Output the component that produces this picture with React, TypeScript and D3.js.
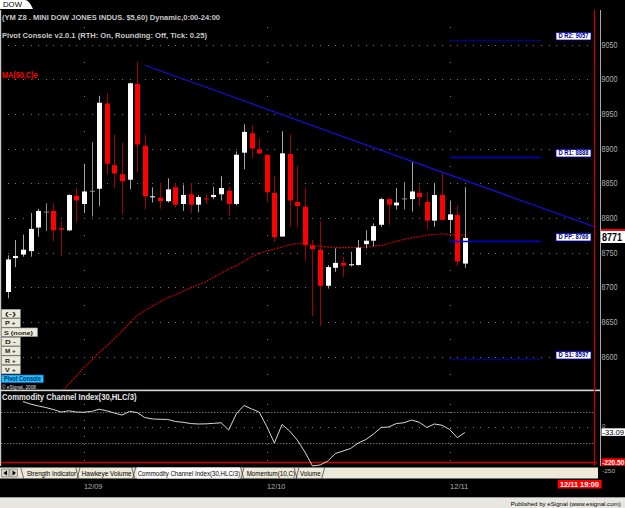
import React from 'react';
import * as d3 from 'd3';

// hourly bars of YM Z8
const opens = [8693, 8742, 8747, 8752, 8786, 8809, 8810, 8785, 8782, 8832, 8820, 8839, 8842, 8965, 8876, 8863, 8855, 8993, 8904, 8830, 8829, 8824, 8844, 8820, 8834, 8819, 8828, 8830, 8834, 8839, 8820, 8894, 8922, 8899, 8891, 8836, 8773, 8892, 8823, 8816, 8760, 8754, 8702, 8728, 8735, 8732, 8732, 8762, 8767, 8790, 8827, 8818, 8828, 8827, 8836, 8823, 8796, 8833, 8797, 8804, 8734];
const highs = [8746, 8768, 8776, 8807, 8813, 8821, 8821, 8795, 8834, 8843, 8878, 8909, 8976, 8980, 8920, 8908, 8995, 9025, 8920, 8844, 8850, 8857, 8850, 8848, 8850, 8833, 8835, 8845, 8860, 8845, 8896, 8935, 8934, 8915, 8891, 8860, 8925, 8920, 8875, 8844, 8768, 8795, 8732, 8756, 8744, 8751, 8768, 8782, 8792, 8829, 8828, 8843, 8852, 8881, 8848, 8837, 8850, 8865, 8825, 8818, 8844];
const lows = [8684, 8729, 8744, 8744, 8773, 8781, 8766, 8745, 8781, 8794, 8807, 8802, 8817, 8862, 8843, 8806, 8841, 8866, 8812, 8822, 8813, 8822, 8815, 8810, 8807, 8808, 8820, 8827, 8825, 8803, 8818, 8870, 8886, 8892, 8823, 8765, 8773, 8787, 8786, 8738, 8658, 8644, 8698, 8722, 8715, 8730, 8731, 8756, 8759, 8787, 8790, 8812, 8812, 8809, 8817, 8784, 8787, 8797, 8778, 8731, 8728];
const closes = [8740, 8745, 8754, 8784, 8810, 8809, 8782, 8783, 8833, 8825, 8838, 8839, 8966, 8878, 8864, 8853, 8994, 8906, 8831, 8831, 8824, 8841, 8819, 8833, 8819, 8830, 8827, 8833, 8843, 8820, 8891, 8924, 8900, 8893, 8837, 8772, 8893, 8825, 8817, 8761, 8755, 8702, 8729, 8735, 8731, 8733, 8757, 8767, 8788, 8827, 8819, 8822, 8828, 8838, 8830, 8796, 8833, 8797, 8805, 8737, 8771];

const maStart = 7;
const maValues = [8548, 8560, 8572, 8584, 8594, 8606, 8615, 8626, 8637, 8648, 8659, 8666, 8673, 8679, 8685, 8689, 8694, 8699, 8703, 8708, 8714, 8720, 8726, 8731, 8737, 8744, 8749, 8752, 8755, 8758, 8761, 8763, 8762, 8760, 8759, 8758, 8757, 8757, 8757, 8757, 8758, 8759, 8760, 8763, 8766, 8769, 8771, 8773, 8775, 8776, 8777, 8776, 8775, 8775];

const cciStart = 2;
const cciValues = [164, 148, 136, 126, 113, 97, 105, 97, 96, 101, 115, 105, 91, 78, 101, 94, 62, 53, 51, 50, 37, 32, 24, 21, 22, 25, 29, -17, 85, 139, 117, 97, 5, -100, 18, -24, -81, -157, -246, -240, -215, -167, -151, -135, -100, -78, -43, -1, 2, 24, 29, 46, 32, -1, 21, 13, -14, -66, -33.09];

const priceTicks = [9050, 9000, 8950, 8900, 8850, 8800, 8750, 8700, 8650, 8600];
const dayBars = [10, 34, 58];
const dayLabels = ['12/09', '12/10', '12/11'];
const cciLevels = [100, -100];
const cciMark = -220.5;
const lastPrice = 8771;
const lastCci = -33.09;

const pivotNames = ['D R2', 'D R1', 'D PP', 'D S1'];
const pivotValues = [9057, 8888, 8766, 8597];
const pivotColors = ['#000080', '#0000c8', '#0000e0', '#000080'];
const pivotFrom = 58;
const pivotTo = 70;

const trendBars = [18, 57];
const trendPrices = [9020, 8866];

const buttonLabels = ['(-)', 'P +', 'S (none)', 'D -', 'M +', 'R +', 'V +'];
const tabLabels = ['Strength Indicator', 'Hawkeye Volume', 'Commodity Channel Index(30,HLC/3)', 'Momentum(10,C)', 'Volume'];

const F = '"Liberation Sans", Arial, sans-serif';

const T = ({ x, y, len, size, fill, weight = 'normal', anchor = 'start', children }: any) => (
  <text x={x} y={y} fontSize={size} fill={fill} fontFamily={F} fontWeight={weight} textAnchor={anchor}
    textLength={len} lengthAdjust="spacingAndGlyphs">{children}</text>
);

const App = () => {
  const W = 625, H = 508;
  const RX = 594; // red cursor line
  const AX = 600.5; // axis divider
  const P_TOP = 10, P_BOT = 390;

  const x = d3.scaleLinear().domain([0, 60]).range([7.7, 464.9]);
  const y = d3.scaleLinear().domain([8600, 9050]).range([356.5, 44.5]);
  const yc = d3.scaleLinear().domain([-250, 100]).range([466.55, 411.6]);

  const lastBar = Math.floor(x.invert(RX));
  const dotBars = d3.range(0, lastBar + 1);

  const maLine = d3.line<number>().x((_, i) => x(i + maStart)).y(d => y(d));
  const cciLine = d3.line<number>().x((_, i) => x(i + cciStart)).y(d => yc(d));

  const trend = d3.scaleLinear().domain(trendBars).range(trendPrices);
  const trendEnd = x.invert(AX);

  const vDotPrices = d3.range(8575, 9100, 25);
  const cciDots = d3.range(404, 466, 8);

  // tab layout (chrome)
  const tabTextX = [26.7, 81.7, 137.7, 246.7, 300];
  const tabTextW = [49.3, 50, 102.3, 48.3, 20.7];

  return (
    <svg width={W} height={H} style={{ position: 'absolute', left: 0, top: 0, background: '#000' }}>
      <rect width={W} height={H} fill="#000" />
      <defs>
        <clipPath id="pc"><rect x={1} y={P_TOP} width={RX - 1} height={P_BOT - P_TOP} /></clipPath>
      </defs>

      {/* top tab */}
      <path d="M0,0 H25 Q29,0 33,9 H0 Z" fill="#fff" />
      <T x={3} y={7.3} size={7.5} fill="#000" len={19}>DOW</T>

      {/* price panel grid */}
      {priceTicks.map(p => dotBars.map(i => (
        <rect key={`h${p}-${i}`} x={Math.round(x(i))} y={Math.round(y(p))} width={1} height={1} fill="#7a7a7a" />
      )))}
      {dayBars.map(b => vDotPrices.map(p => (
        <rect key={`v${b}-${p}`} x={Math.round(x(b))} y={Math.round(y(p))} width={1} height={1} fill="#7a7a7a" />
      )))}

      <g clipPath="url(#pc)">
        {/* MA(50,C) */}
        <path d={maLine(maValues) || ''} fill="none" stroke="#c00000" strokeWidth={1.2} strokeDasharray="2,1" />
        {/* candles */}
        {opens.map((o, i) => {
          const c = closes[i];
          const cx = Math.round(x(i));
          const up = c > o, dn = c < o;
          const wick = up ? '#a4a4a4' : dn ? '#a00000' : '#8c8c8c';
          const top = y(Math.max(o, c)), bot = y(Math.min(o, c));
          return (
            <g key={`c${i}`}>
              <rect x={cx} y={y(highs[i])} width={1} height={y(lows[i]) - y(highs[i])} fill={wick} />
              {up || dn ? (
                <rect x={cx - 2} y={top} width={5} height={Math.max(1, bot - top)} fill={up ? '#fff' : '#ff0000'} />
              ) : (
                <rect x={cx - 2} y={top} width={5} height={1} fill="#8c8c8c" />
              )}
            </g>
          );
        })}
        {/* trendline */}
        <line x1={x(trendBars[0])} y1={y(trendPrices[0])} x2={x(trendEnd)} y2={y(trend(trendEnd))} stroke="#1010d8" strokeWidth={1.2} />
      </g>

      {/* pivot lines */}
      {pivotValues.map((v, k) => (
        <g key={`pv${k}`}>
          <line x1={x(pivotFrom)} x2={x(pivotTo)} y1={Math.round(y(v)) + 0.5} y2={Math.round(y(v)) + 0.5} stroke={pivotColors[k]} strokeWidth={1.4} />
          <rect x={556} y={Math.round(y(v)) - 7.5} width={35} height={7.5} fill="#fff" stroke="#0000c0" strokeWidth={0.8} />
          <T x={558.5} y={Math.round(y(v)) - 1.6} size={6.3} fill="#0000a0" weight="bold" len={30}>{`${pivotNames[k]}: ${v}`}</T>
        </g>
      ))}

      {/* header texts */}
      <T x={2} y={20} size={7.8} fill="#c8c8c8" weight="bold" len={218}>(YM Z8 . MINI DOW JONES INDUS. $5,60) Dynamic,0:00-24:00</T>
      <T x={2} y={38} size={7.8} fill="#c8c8c8" weight="bold" len={205}>Pivot Console v2.0.1 (RTH: On, Rounding: Off, Tick: 0.25)</T>
      <T x={2} y={77.5} size={9} fill="#ff0000" weight="bold" len={35.5}>MA(50,C)e</T>

      {/* left buttons */}
      {buttonLabels.map((b, k) => {
        const wide = b.length > 4;
        const by = 309.3 + k * 9.33;
        return (
          <g key={`b${k}`}>
            <rect x={1.5} y={by} width={wide ? 36 : 18.8} height={8.6} fill="#ece9d8" stroke="#9a9a9a" strokeWidth={0.6} />
            <T x={wide ? 4 : 5} y={by + 6.6} size={6} fill="#222" weight="bold" len={wide ? 29 : b.length * 3.6}>{b}</T>
          </g>
        );
      })}
      <rect x={1.7} y={375} width={41.6} height={7.7} fill="#1ec8ff" stroke="#0066cc" strokeWidth={0.6} />
      <T x={4} y={381.3} size={6.3} fill="#00206a" weight="bold" len={37}>Pivot Console</T>
      <T x={2} y={388.8} size={5} fill="#e0e0e0" len={34}>© eSignal, 2008</T>

      {/* panel borders and axis */}
      <rect x={0} y={P_TOP} width={1.2} height={456} fill="#c8c8c8" />
      <rect x={0} y={389.6} width={AX} height={1.6} fill="#d8d8d8" />
      <line x1={RX + 0.5} x2={RX + 0.5} y1={P_TOP} y2={466} stroke="#c00000" strokeWidth={1.3} />
      <line x1={AX} x2={AX} y1={P_TOP} y2={466} stroke="#a8a8a8" strokeWidth={1} />

      {priceTicks.map(p => (
        <T key={`t${p}`} x={601.5} y={y(p) + 3.3} size={9.5} fill="#b0b0b0" len={16}>{p}</T>
      ))}
      <rect x={601} y={229} width={24} height={3} fill="#ff0000" />
      <rect x={601} y={231} width={24} height={12} fill="#fff" />
      <T x={602} y={240.5} size={10} fill="#000" weight="bold" len={20}>{lastPrice}</T>

      {/* CCI panel */}
      <T x={2} y={400} size={8.6} fill="#e8e8e8" weight="bold" len={134.5}>Commodity Channel Index(30,HLC/3)</T>
      {cciLevels.map(v => (
        <line key={`cl${v}`} x1={1} x2={RX} y1={Math.round(yc(v)) + 0.5} y2={Math.round(yc(v)) + 0.5} stroke="#8a8a8a" strokeWidth={0.8} strokeDasharray="1.5,1.5" />
      ))}
      {dotBars.map(i => (
        <rect key={`z${i}`} x={Math.round(x(i))} y={Math.round(yc(0))} width={1} height={1} fill="#7a7a7a" />
      ))}
      {dayBars.map(b => cciDots.map(yy => (
        <rect key={`cv${b}-${yy}`} x={Math.round(x(b))} y={yy} width={1} height={1} fill="#7a7a7a" />
      )))}
      <line x1={1} x2={597} y1={Math.round(yc(cciMark)) + 0.5} y2={Math.round(yc(cciMark)) + 0.5} stroke="#d00000" strokeWidth={1.3} />
      <path d={cciLine(cciValues) || ''} fill="none" stroke="#d8d8d8" strokeWidth={1} />
      <T x={602} y={427.5} size={6} fill="#b0b0b0">0</T>
      <rect x={601.5} y={428.3} width={23.5} height={7.6} fill="#fff" />
      <T x={602.5} y={434.8} size={8} fill="#000" len={21.5}>{lastCci.toFixed(2)}</T>
      <T x={602} y={472.5} size={6} fill="#b0b0b0" len={13}>-250</T>
      <rect x={601.5} y={458.3} width={23.5} height={7.6} fill="#ff0000" />
      <T x={602} y={464.8} size={6.4} fill="#fff" weight="bold" len={22.5}>{cciMark.toFixed(2)}</T>

      {/* indicator tabs */}
      <rect x={0} y={467.5} width={598} height={11} fill="#ece9d8" />
      <rect x={137} y={467.5} width={103} height={11} fill="#fff" />
      <rect x={1.5} y={469} width={7.5} height={8} fill="#d4d0c8" stroke="#555" strokeWidth={0.5} />
      <rect x={10} y={469} width={7.5} height={8} fill="#d4d0c8" stroke="#555" strokeWidth={0.5} />
      <path d="M7,470.5 L3.5,473 L7,475.5 Z" fill="#000" />
      <path d="M12.5,470.5 L16,473 L12.5,475.5 Z" fill="#000" />
      {tabTextX.map((tx, k) => (
        <g key={`tab${k}`}>
          <path d={`M${tx - 6},467.5 L${tx - 3},478.5`} stroke="#333" strokeWidth={0.7} />
          <path d={`M${tx + tabTextW[k] + 1},478.5 L${tx + tabTextW[k] + 4},467.5`} stroke="#333" strokeWidth={0.7} />
          <T x={tx} y={476} size={6.4} fill="#000" len={tabTextW[k]}>{tabLabels[k]}</T>
        </g>
      ))}

      {/* date axis */}
      {dayBars.map((b, k) => (
        <T key={`d${b}`} x={Math.round(x(b))} y={489} size={7.2} fill="#b0b0b0" len={18.3}>{dayLabels[k]}</T>
      ))}
      <rect x={557.7} y={480} width={44} height={8.5} fill="#ff0000" />
      <T x={560} y={487} size={7.6} fill="#fff" weight="bold" len={39}>12/11 19:00</T>

      {/* status bar */}
      <rect x={0} y={497} width={W} height={11} fill="#e8e6e0" />
      <line x1={0} x2={W} y1={497.5} y2={497.5} stroke="#9a9a9a" strokeWidth={1} />
      <T x={510.7} y={505.5} size={6.2} fill="#000" len={110}>Published by eSignal (www.esignal.com)</T>
    </svg>
  );
};

export default App;
